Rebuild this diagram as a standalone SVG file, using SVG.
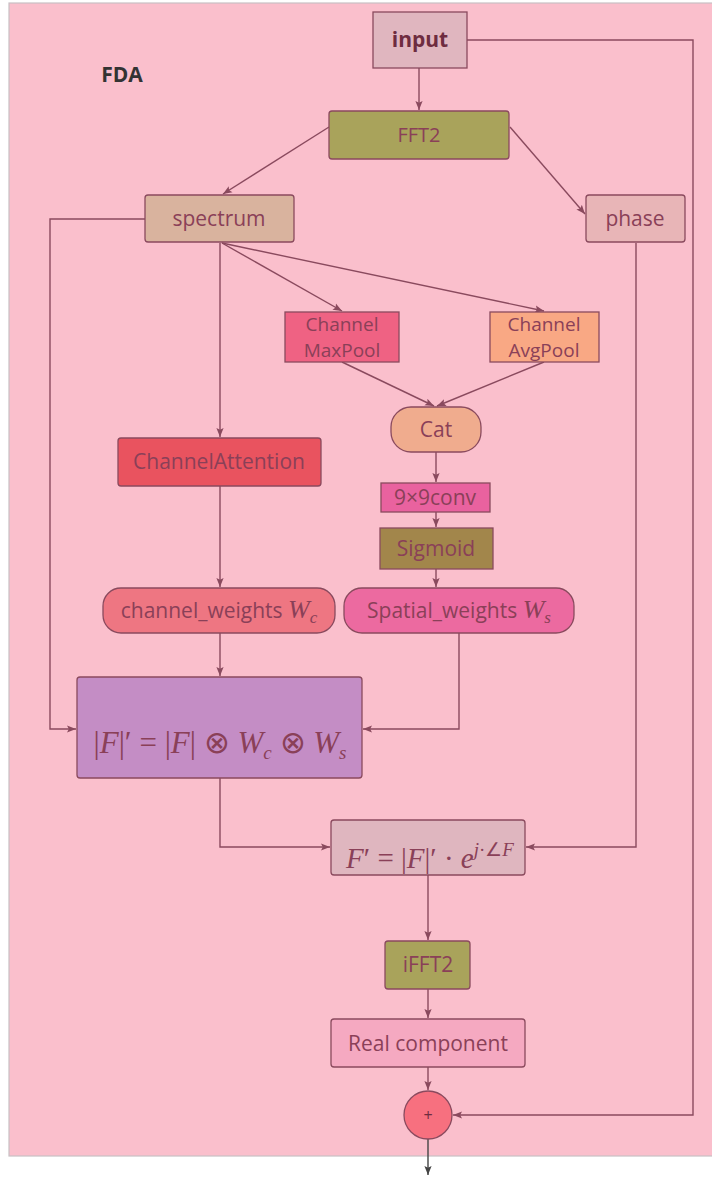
<svg xmlns="http://www.w3.org/2000/svg" width="712" height="1180" viewBox="0 0 712 1180">
<defs>
<marker id="ah" viewBox="0 0 10 10" refX="10" refY="5" markerWidth="9" markerHeight="9" markerUnits="userSpaceOnUse" orient="auto"><path d="M0,1 L10,5 L0,9 L2,5 z" fill="#8a4a5e"/></marker>
<marker id="ahd" viewBox="0 0 10 10" refX="10" refY="5" markerWidth="9" markerHeight="9" markerUnits="userSpaceOnUse" orient="auto"><path d="M0,1 L10,5 L0,9 L2,5 z" fill="#444"/></marker>
<style>
.n{stroke:#8a4a5e;stroke-width:1.3}
.t{font-family:"Open Sans","Noto Sans",sans-serif;font-size:21px;fill:#8a4058;text-anchor:middle}
.t2{font-family:"Open Sans","Noto Sans",sans-serif;font-size:19px;fill:#8a4058;text-anchor:middle}
.m{font-family:"Liberation Serif",serif;font-size:24px;fill:#8a4058}
.c{fill:none;stroke:#8a4a5e;stroke-width:1.4;marker-end:url(#ah)}
</style>
</defs>
<rect x="9" y="3" width="710" height="1153" fill="#fabfcc" stroke="#c8c0c4" stroke-width="1.2"/>
<text x="122" y="82" style="font-family:'Open Sans','Noto Sans',sans-serif;font-size:21px;font-weight:bold;fill:#333" text-anchor="middle">FDA</text>

<g id="connectors">
<path class="c" d="M419,68 V110"/>
<path class="c" d="M467,40 H693 V1115 H453"/>
<path class="c" d="M329,127 L223,194"/>
<path class="c" d="M510,127 L585,214"/>
<path class="c" d="M145,219 H50 V729 H76"/>
<path class="c" d="M220,243 V437"/>
<path class="c" d="M222,243 L342,311"/>
<path class="c" d="M222,243 L544,311"/>
<path class="c" d="M636,243 V847 H526"/>
<path class="c" d="M342,362 L434,406"/>
<path class="c" d="M544,362 L437,406"/>
<path class="c" d="M436,452 V482"/>
<path class="c" d="M436,512 V527"/>
<path class="c" d="M436,569 V587"/>
<path class="c" d="M220,486 V587"/>
<path class="c" d="M220,633 V676"/>
<path class="c" d="M459,633 V729 H363"/>
<path class="c" d="M220,778 V847 H330"/>
<path class="c" d="M428,875 V940"/>
<path class="c" d="M428,989 V1018"/>
<path class="c" d="M428,1067 V1090"/>
<path d="M428,1139 V1175" fill="none" stroke="#444" stroke-width="1.4" marker-end="url(#ahd)"/>
</g>

<g id="input"><rect class="n" x="373" y="12" width="94" height="56" fill="#e0b6bf"/><text class="t" x="420" y="47" style="font-weight:bold;fill:#6e2c40">input</text></g>
<g id="fft2"><rect class="n" x="329" y="111" width="180" height="48" rx="3" fill="#a9a35b"/><text class="t" x="419" y="142" style="font-size:20px">FFT2</text></g>
<g id="spectrum"><rect class="n" x="145" y="195" width="149" height="47" rx="3" fill="#d9b39e"/><text class="t" x="219" y="226">spectrum</text></g>
<g id="phase"><rect class="n" x="586" y="195" width="99" height="47" rx="3" fill="#e8b5b7"/><text class="t" x="635" y="226">phase</text></g>
<g id="maxpool"><rect class="n" x="285" y="312" width="114" height="50" fill="#ef6283"/><text class="t2" x="342" y="331">Channel</text><text class="t2" x="342" y="357">MaxPool</text></g>
<g id="avgpool"><rect class="n" x="490" y="312" width="109" height="50" fill="#f9a884"/><text class="t2" x="544" y="331">Channel</text><text class="t2" x="544" y="357">AvgPool</text></g>
<g id="cat"><rect class="n" x="391" y="407" width="90" height="45" rx="20" fill="#f0ac8e"/><text class="t" x="436" y="437">Cat</text></g>
<g id="channelattention"><rect class="n" x="118" y="438" width="203" height="48" rx="3" fill="#e9535f"/><text class="t" x="219" y="469">ChannelAttention</text></g>
<g id="conv"><rect class="n" x="381" y="483" width="109" height="29" fill="#e9629f"/><text class="t" x="435" y="505">9×9conv</text></g>
<g id="sigmoid"><rect class="n" x="380" y="528" width="113" height="41" fill="#a2864b"/><text class="t" x="436" y="556">Sigmoid</text></g>
<g id="channel_weights"><rect class="n" x="103" y="588" width="232" height="45" rx="18" fill="#ee7682"/><text class="t" x="219" y="618">channel_weights <tspan class="m" style="font-style:italic;font-size:26px">W</tspan><tspan class="m" style="font-style:italic;font-size:17px" dy="5">c</tspan></text></g>
<g id="spatial_weights"><rect class="n" x="344" y="588" width="230" height="45" rx="18" fill="#ec6aa0"/><text class="t" x="459" y="618">Spatial_weights <tspan class="m" style="font-style:italic;font-size:26px">W</tspan><tspan class="m" style="font-style:italic;font-size:17px" dy="5">s</tspan></text></g>
<g id="fmul"><rect class="n" x="77" y="677" width="285" height="101" rx="3" fill="#c48dc5"/><text class="m" x="220" y="753" text-anchor="middle" style="font-size:31px">|<tspan font-style="italic">F</tspan>|′ = |<tspan font-style="italic">F</tspan>| ⊗ <tspan font-style="italic">W</tspan><tspan font-style="italic" font-size="19" dy="6">c</tspan><tspan dy="-6"> ⊗ </tspan><tspan font-style="italic">W</tspan><tspan font-style="italic" font-size="19" dy="6">s</tspan></text></g>
<g id="fprime"><rect class="n" x="331" y="820" width="194" height="55" rx="3" fill="#dfb6bf"/><text class="m" x="430" y="868" text-anchor="middle" style="font-size:29px"><tspan font-style="italic">F</tspan>′ = |<tspan font-style="italic">F</tspan>|′ · <tspan font-style="italic">e</tspan><tspan font-style="italic" font-size="19" dy="-12">j</tspan><tspan font-size="19">·∠</tspan><tspan font-style="italic" font-size="19">F</tspan></text></g>
<g id="ifft2"><rect class="n" x="385" y="941" width="85" height="48" rx="3" fill="#a9a35b"/><text class="t" x="428" y="972">iFFT2</text></g>
<g id="real"><rect class="n" x="331" y="1019" width="194" height="48" rx="3" fill="#f5a9c1"/><text class="t" x="428" y="1051">Real component</text></g>
<g id="add"><circle class="n" cx="428" cy="1115" r="24" fill="#f7707f"/><text x="428" y="1121" text-anchor="middle" style="font-family:'Open Sans',sans-serif;font-size:16px;fill:#6e2c40">+</text></g>
</svg>
